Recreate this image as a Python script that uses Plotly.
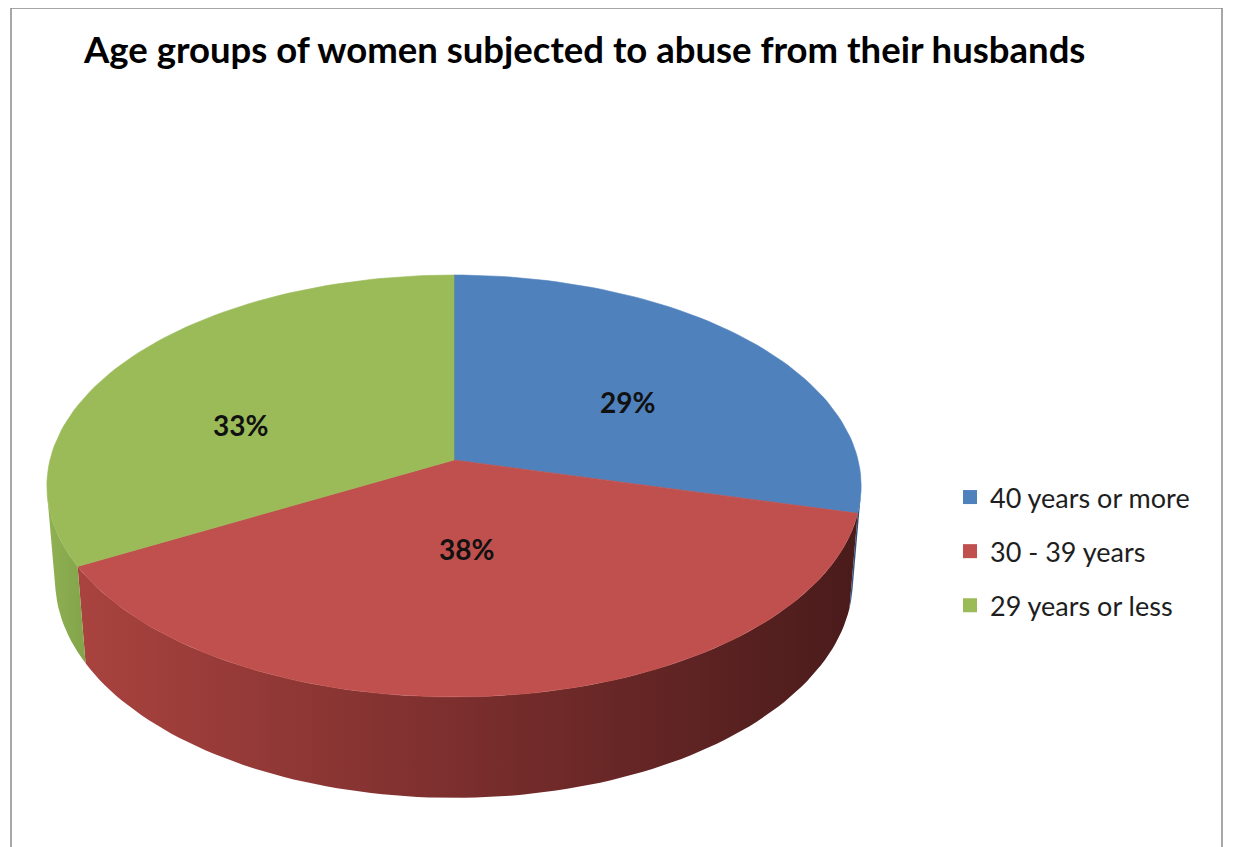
import numpy as np
import plotly.graph_objects as go

# ---- data ----
categories = ["40 years or more", "30 - 39 years", "29 years or less"]
values = [29, 38, 33]
label_texts = ["29%", "38%", "33%"]
chart_title = "Age groups of women subjected to abuse from their husbands"

# ---- style ----
top_colors = ["#4F81BD", "#C0504D", "#9BBB59"]
side_scales = [
    [[0, "#3a5f8f"], [1, "#2a4670"]],
    [[0, "#a9433f"], [0.5, "#7a2e2d"], [1, "#4a1b1b"]],
    [[0, "#8fb153"], [1, "#83a44a"]],
]
label_shift = [(5, -9), (-17, 33), (-29, -21)]
FONT = "Lato"

# page body has an 8px margin; work in screen pixel coordinates
OFF = 8
W, HGT = 1240 - OFF, 847 - OFF
CX, CY = 454, 460
F = 2812.0
D0 = 6.96
ALPHA = np.radians(30.95)
DEPTH = 0.275
LABEL_R = 0.55


def project(X, Y, Z):
    c, s = np.cos(ALPHA), np.sin(ALPHA)
    w = D0 + Y * c - Z * s
    v = Y * s + Z * c
    return CX + F * X / w, CY - F * v / w


def arc(a0, a1, z, n=120):
    t = np.linspace(a0, a1, max(2, int(n * (a1 - a0) / np.pi) + 2))
    return project(np.sin(t), np.cos(t), z)


def px(sx):
    return (sx - OFF) / W


def py(sy):
    return 1 - (sy - OFF) / HGT


vals = np.array(values, dtype=float)
cum = np.concatenate([[0], np.cumsum(vals) / vals.sum()]) * 2 * np.pi
vis0 = np.arccos(-1.0 / (D0 * np.cos(ALPHA)))
vis1 = 2 * np.pi - vis0

fig = go.Figure()

# side walls
for i in range(len(values)):
    a0, a1 = max(cum[i], vis0), min(cum[i + 1], vis1)
    if a1 <= a0:
        continue
    tx, ty = arc(a0, a1, 0.0)
    bx, by = arc(a0, a1, -DEPTH)
    xs = np.concatenate([tx, bx[::-1], tx[:1]])
    ys = np.concatenate([ty, by[::-1], ty[:1]])
    fig.add_trace(go.Scatter(
        x=xs, y=ys, mode="lines", fill="toself",
        fillgradient=dict(type="horizontal", colorscale=side_scales[i]),
        line=dict(width=0), hoverinfo="skip", showlegend=False))

# top faces
for i in range(len(values)):
    ax, ay = arc(cum[i], cum[i + 1], 0.0)
    ox, oy = project(0.0, 0.0, 0.0)
    xs = np.concatenate([[ox], ax, [ox]])
    ys = np.concatenate([[oy], ay, [oy]])
    fig.add_trace(go.Scatter(
        x=xs, y=ys, mode="lines", fill="toself", fillcolor=top_colors[i],
        line=dict(width=0.6, color=top_colors[i]), hoverinfo="skip",
        showlegend=False))

# legend entries
for i, name in enumerate(categories):
    fig.add_trace(go.Scatter(
        x=[None], y=[None], mode="markers", name=name, legendgroup=name,
        marker=dict(symbol="square", size=14, color=top_colors[i])))

# data labels
for i, txt in enumerate(label_texts):
    mid = (cum[i] + cum[i + 1]) / 2
    lx, ly = project(LABEL_R * np.sin(mid), LABEL_R * np.cos(mid), 0.0)
    fig.add_annotation(x=lx, y=ly, text=f"<b>{txt}</b>", showarrow=False,
                       xshift=label_shift[i][0], yshift=label_shift[i][1],
                       font=dict(family=FONT, size=28, color="#111111"))

fig.add_shape(type="rect", xref="x", yref="y", x0=11, y0=8, x1=1222, y1=870,
              line=dict(color="#8a8a8a", width=1.5), layer="above")

fig.update_layout(
    width=W, height=HGT,
    margin=dict(l=0, r=0, t=0, b=0),
    paper_bgcolor="white", plot_bgcolor="white",
    title=dict(text=f"<b>{chart_title}</b>", x=px(84), xanchor="left",
               y=py(50), yanchor="middle",
               font=dict(family=FONT, size=36.5, color="#000000")),
    xaxis=dict(range=[OFF, 1240], visible=False, fixedrange=True),
    yaxis=dict(range=[847, OFF], visible=False, fixedrange=True),
    legend=dict(x=px(950), xanchor="left", y=py(473), yanchor="top",
                font=dict(family=FONT, size=27, color="#1e1e1e"),
                tracegroupgap=16, itemwidth=30, bgcolor="rgba(0,0,0,0)"),
    showlegend=True,
    hovermode=False,
)

fig.write_html("out.html")
